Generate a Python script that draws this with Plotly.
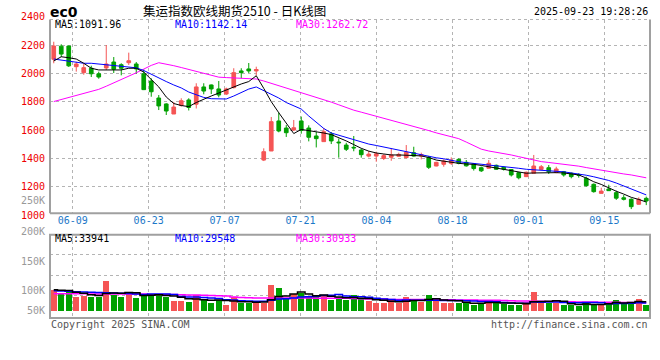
import plotly.graph_objects as go

# ---------------- data ----------------
dates = ["06-04", "06-05", "06-06", "06-09", "06-10", "06-11", "06-12", "06-13", "06-16", "06-17",
         "06-18", "06-19", "06-20", "06-23", "06-24", "06-25", "06-26", "06-27", "06-30", "07-01",
         "07-02", "07-03", "07-04", "07-07", "07-08", "07-09", "07-10", "07-11", "07-14", "07-15",
         "07-16", "07-17", "07-18", "07-21", "07-22", "07-23", "07-24", "07-25", "07-28", "07-29",
         "07-30", "07-31", "08-01", "08-04", "08-05", "08-06", "08-07", "08-08", "08-11", "08-12",
         "08-13", "08-14", "08-15", "08-18", "08-19", "08-20", "08-21", "08-22", "08-25", "08-26",
         "08-27", "08-28", "08-29", "09-01", "09-02", "09-03", "09-04", "09-05", "09-08", "09-09",
         "09-10", "09-11", "09-12", "09-15", "09-16", "09-17", "09-18", "09-19", "09-22", "09-23"]

opens = [2099, 2192, 2193, 2047, 2005, 2036, 1997, 2038, 2080, 2061,
         2075, 2066, 1997, 1946, 1826, 1784, 1713, 1773, 1812, 1782,
         1904, 1918, 1890, 1854, 1899, 2017, 2031, 2017, 1388, 1452,
         1664, 1614, 1600, 1664, 1614, 1558, 1518, 1572, 1515, 1494,
         1478, 1459, 1416, 1416, 1399, 1408, 1415, 1405, 1440, 1416,
         1406, 1346, 1358, 1365, 1393, 1372, 1361, 1334, 1330, 1351,
         1337, 1321, 1299, 1271, 1295, 1322, 1334, 1300, 1306, 1295,
         1285, 1259, 1217, 1153, 1184, 1158, 1122, 1111, 1076, 1118]
closes = [2193, 2136, 2053, 2066, 2040, 1997, 1974, 2066, 2029, 2036,
          2089, 2031, 1885, 1870, 1770, 1734, 1762, 1807, 1759, 1904,
          1875, 1890, 1847, 1890, 2005, 2005, 2017, 2027, 1447, 1659,
          1593, 1581, 1616, 1597, 1549, 1539, 1588, 1523, 1510, 1464,
          1474, 1426, 1430, 1432, 1419, 1424, 1428, 1443, 1416, 1427,
          1337, 1372, 1381, 1388, 1365, 1347, 1328, 1312, 1365, 1323,
          1323, 1283, 1263, 1302, 1346, 1341, 1306, 1325, 1283, 1271,
          1281, 1207, 1165, 1169, 1172, 1119, 1111, 1059, 1111, 1099]
highs = [2223, 2205, 2195, 2082, 2066, 2054, 2012, 2200, 2115, 2071,
         2146, 2080, 2028, 1965, 1847, 1789, 1798, 1824, 1824, 1930,
         1930, 1921, 1946, 1899, 2036, 2036, 2073, 2047, 1471, 1692,
         1724, 1635, 1671, 1695, 1633, 1586, 1614, 1586, 1540, 1510,
         1558, 1469, 1452, 1447, 1430, 1471, 1440, 1494, 1482, 1440,
         1417, 1376, 1393, 1407, 1400, 1388, 1367, 1342, 1388, 1356,
         1342, 1325, 1304, 1307, 1424, 1353, 1353, 1341, 1311, 1300,
         1295, 1271, 1223, 1193, 1214, 1172, 1141, 1118, 1125, 1130]
lows = [2071, 2115, 2045, 2012, 1990, 1974, 1962, 2024, 2002, 1986,
        2059, 1997, 1882, 1835, 1741, 1706, 1713, 1765, 1738, 1752,
        1852, 1854, 1831, 1847, 1894, 1965, 2002, 1985, 1381, 1452,
        1584, 1551, 1593, 1574, 1520, 1477, 1518, 1501, 1405, 1452,
        1450, 1405, 1407, 1376, 1388, 1383, 1412, 1400, 1412, 1393,
        1325, 1344, 1341, 1353, 1358, 1342, 1314, 1304, 1328, 1318,
        1314, 1272, 1252, 1268, 1293, 1318, 1290, 1295, 1271, 1259,
        1264, 1201, 1158, 1152, 1170, 1107, 1103, 1042, 1074, 1070]

ma5 = [2087, 2117, 2110, 2101, 2071, 2036, 2024, 2024, 2024, 2024,
       2036, 2036, 2009, 1960, 1904, 1833, 1787, 1773, 1765, 1794,
       1819, 1840, 1861, 1882, 1906, 1925, 1942, 1983, 1894, 1800,
       1722, 1647, 1575, 1604, 1597, 1588, 1579, 1568, 1547, 1523,
       1497, 1471, 1451, 1438, 1431, 1424, 1424, 1424, 1420, 1417,
       1406, 1388, 1379, 1372, 1365, 1360, 1358, 1350, 1341, 1332,
       1325, 1318, 1306, 1295, 1297, 1299, 1299, 1299, 1297, 1290,
       1283, 1261, 1235, 1216, 1191, 1168, 1148, 1125, 1110, 1091.96]
ma10 = [2101, 2094, 2082, 2077, 2071, 2071, 2066, 2059, 2059, 2052,
        2047, 2039, 2020, 1992, 1964, 1942, 1918, 1897, 1868, 1847,
        1830, 1821, 1818, 1819, 1840, 1865, 1889, 1904, 1878, 1847,
        1826, 1794, 1773, 1748, 1699, 1653, 1611, 1579, 1563, 1544,
        1528, 1514, 1501, 1491, 1480, 1470, 1458, 1447, 1434, 1424,
        1413, 1404, 1397, 1385, 1376, 1370, 1365, 1359, 1353, 1347,
        1342, 1335, 1330, 1323, 1320, 1316, 1313, 1309, 1305, 1297,
        1290, 1281, 1270, 1258, 1244, 1226, 1206, 1187, 1166, 1142.14]
ma30 = [1801, 1815, 1829, 1842, 1857, 1872, 1887, 1909, 1932, 1955,
        1979, 2004, 2030, 2056, 2075, 2067, 2054, 2041, 2028, 2014,
        2001, 1987, 1973, 1970, 1968, 1967, 1963, 1960, 1946, 1930,
        1914, 1898, 1882, 1866, 1850, 1834, 1816, 1797, 1778, 1758,
        1740, 1726, 1712, 1698, 1684, 1670, 1655, 1641, 1626, 1611,
        1596, 1580, 1566, 1553, 1539, 1515, 1491, 1465, 1452, 1444,
        1435, 1424, 1412, 1400, 1388, 1377, 1371, 1365, 1360, 1354,
        1345, 1335, 1325, 1315, 1305, 1298, 1290, 1283, 1275, 1262.72]

# volume in thousands of contracts
volume_k = [79, 68, 75, 53, 57, 53, 51, 113, 60, 53,
            66, 49, 63, 63, 63, 51, 38, 38, 33, 60,
            41, 30, 41, 22, 51, 28, 30, 28, 28, 98,
            85, 43, 63, 68, 56, 53, 58, 41, 51, 41,
            60, 43, 37, 30, 30, 41, 30, 51, 41, 34,
            60, 41, 30, 30, 30, 30, 22, 30, 41, 30,
            24, 22, 22, 32, 72, 28, 28, 28, 22, 22,
            19, 33, 25, 22, 33, 41, 25, 33, 44, 22]
vol_ma5_k = [80, 78, 77, 70, 66, 61, 58, 65, 67, 66,
             69, 68, 58, 59, 61, 58, 56, 51, 45, 44,
             42, 40, 41, 39, 37, 34, 34, 32, 33, 42,
             54, 56, 63, 71, 63, 57, 60, 55, 52, 49,
             50, 47, 46, 42, 40, 36, 34, 36, 39, 39,
             43, 45, 41, 39, 38, 32, 28, 28, 31, 31,
             29, 29, 28, 26, 34, 35, 36, 38, 36, 26,
             24, 25, 24, 24, 26, 31, 29, 31, 35, 33.941]
vol_ma10_k = [76, 75, 74, 72, 71, 70, 69, 68, 67, 66,
              65, 63, 62, 63, 63, 63, 62, 54, 52, 52,
              50, 48, 46, 42, 41, 38, 37, 36, 36, 40,
              44, 45, 48, 52, 53, 55, 58, 59, 62, 56,
              53, 53, 51, 47, 44, 43, 40, 41, 40, 40,
              40, 40, 39, 39, 39, 38, 37, 35, 35, 34,
              31, 29, 28, 28, 33, 32, 33, 33, 31, 30,
              30, 31, 31, 30, 26, 27, 27, 28, 30, 29.548]
vol_ma30_k = [64, 64, 64, 64, 64, 63, 63, 63, 63, 63,
              63, 63, 63, 62, 62, 62, 62, 61, 60, 60,
              59, 58, 57, 56, 52, 50, 49, 48, 48, 48,
              48, 48, 48, 48, 48, 47, 47, 47, 47, 47,
              46, 45, 44, 44, 44, 43, 43, 43, 43, 43,
              42, 42, 42, 42, 41, 41, 41, 40, 40, 40,
              39, 38, 37, 37, 36, 36, 35, 35, 34, 34,
              33, 33, 33, 32, 32, 32, 31, 31, 31, 30.933]

price_ticks = [2400, 2200, 2000, 1800, 1600, 1400, 1200, 1000]
vol_tick_labels = ["200K", "150K", "100K", "50K"]
title_text = "集运指数欧线期货2510 - 日K线图"
symbol_text = "ec0"
stamp_text = "2025-09-23 19:28:26"
ma_main_labels = ["MA5:1091.96", "MA10:1142.14", "MA30:1262.72"]
ma_vol_labels = ["MA5:33941", "MA10:29548", "MA30:30933"]
footer_left = "Copyright 2025 SINA.COM"
footer_right = "http://finance.sina.com.cn"

# ---------------- layout helpers ----------------
W, H = 660, 360
X0, X1 = 50, 650
MAIN_TOP, MAIN_BOT = 19.5, 213.3
VOL_TOP, VOL_BOT = 234.7, 318.0
PRICE_PER_PX = 1000 / 141.7        # 2200 sits at y=45 px
REF_PRICE, REF_PX = 2200, 45.0
VOL_PER_PX = 3.8                   # thousand contracts per pixel
VOL_BASE_PX = 310.7

def px_x(p):
    return p / W

def px_y(p):
    return 1 - p / H

def price_px(price):
    return REF_PX + (REF_PRICE - price) / PRICE_PER_PX

RED = "#F55555"
GREEN = "#00A000"
GRID = "#B4B4B4"
BORDER = "#A0A0A0"
MONO = "DejaVu Sans Mono"

n = len(dates)
idx = list(range(n))

main_range = [REF_PRICE - (MAIN_BOT - REF_PX) * PRICE_PER_PX,
              REF_PRICE + (REF_PX - MAIN_TOP) * PRICE_PER_PX]
vol_range = [-(VOL_BOT - VOL_BASE_PX) * VOL_PER_PX, (VOL_BASE_PX - VOL_TOP) * VOL_PER_PX]
vol_grid = [(VOL_BASE_PX - p) * VOL_PER_PX for p in (254.7, 275.3, 295.7)]

# evenly spaced vertical grid lines, labelled with the date of the nearest candle
GRID_START, GRID_STEP = 2.53, 10.126
tick_pos = [GRID_START + k * GRID_STEP for k in range(8)]
tick_txt = [dates[int(round(t))] for t in tick_pos]

fig = go.Figure()

fig.add_trace(go.Candlestick(
    x=idx, open=opens, high=highs, low=lows, close=closes,
    increasing=dict(line=dict(color=RED, width=1), fillcolor=RED),
    decreasing=dict(line=dict(color=GREEN, width=1), fillcolor=GREEN),
    whiskerwidth=0, xaxis="x", yaxis="y", hoverinfo="skip"))

for vals, col in ((ma30, "#FF00FF"), (ma10, "#0000FF"), (ma5, "#000000")):
    fig.add_trace(go.Scatter(x=idx, y=vals, mode="lines", line=dict(color=col, width=1),
                             xaxis="x", yaxis="y", hoverinfo="skip"))

bar_colors = [RED if c >= o else GREEN for o, c in zip(opens, closes)]
fig.add_trace(go.Bar(x=idx, y=volume_k, marker=dict(color=bar_colors, line=dict(width=0)),
                     width=0.8, xaxis="x2", yaxis="y2", hoverinfo="skip"))
for vals, col in ((vol_ma30_k, "#FF00FF"), (vol_ma10_k, "#0000FF"), (vol_ma5_k, "#000000")):
    fig.add_trace(go.Scatter(x=idx, y=vals, mode="lines", line=dict(color=col, width=1.5, shape="hvh"),
                             xaxis="x2", yaxis="y2", hoverinfo="skip"))

xdom = [px_x(X0), px_x(X1)]
fig.update_layout(
    width=W, height=H, margin=dict(l=0, r=0, t=0, b=0),
    paper_bgcolor="white", plot_bgcolor="white", showlegend=False,
    bargap=0, hovermode=False,
    xaxis=dict(domain=xdom, range=[-0.5, n - 0.5], tickmode="array", tickvals=tick_pos,
               ticktext=tick_txt, showgrid=True, gridcolor=GRID, griddash="dot", gridwidth=1,
               zeroline=False, showline=False, ticks="", rangeslider=dict(visible=False),
               tickfont=dict(family=MONO, size=10, color="#1C78C8"), anchor="y", fixedrange=True),
    yaxis=dict(domain=[px_y(MAIN_BOT), px_y(MAIN_TOP)], range=main_range, tickmode="array",
               tickvals=price_ticks[1:-1], showticklabels=False, showgrid=True, gridcolor=GRID,
               griddash="dot", gridwidth=1, zeroline=False, showline=False, anchor="x"),
    xaxis2=dict(domain=xdom, range=[-0.5, n - 0.5], tickmode="array", tickvals=tick_pos,
                showticklabels=False, showgrid=True, gridcolor=GRID, griddash="dot", gridwidth=1,
                zeroline=False, showline=False, ticks="", anchor="y2"),
    yaxis2=dict(domain=[px_y(VOL_BOT), px_y(VOL_TOP)], range=vol_range, tickmode="array",
                tickvals=vol_grid, showticklabels=False, showgrid=True, gridcolor=GRID,
                griddash="dot", gridwidth=1, zeroline=False, showline=False, anchor="x2"),
)

shapes = []
shapes.append(dict(type="line", xref="paper", yref="paper", x0=px_x(X0), x1=px_x(X1),
                   y0=px_y(MAIN_TOP), y1=px_y(MAIN_TOP), line=dict(color=GRID, width=1, dash="dot")))
for (xa, ya, xb, yb) in ((X0, MAIN_TOP, X0, MAIN_BOT), (X1, MAIN_TOP, X1, MAIN_BOT),
                         (X0, MAIN_BOT, X1, MAIN_BOT)):
    shapes.append(dict(type="line", xref="paper", yref="paper", x0=px_x(xa), x1=px_x(xb),
                       y0=px_y(ya), y1=px_y(yb), line=dict(color=BORDER, width=2)))
shapes.append(dict(type="rect", xref="paper", yref="paper", x0=px_x(X0), x1=px_x(X1),
                   y0=px_y(VOL_BOT), y1=px_y(VOL_TOP), line=dict(color=BORDER, width=2)))
fig.update_layout(shapes=shapes)

ann = []
def text(x, y, s, color="#000000", size=10, family=MONO, xanchor="left"):
    ann.append(dict(x=x, y=y, text=s, showarrow=False, xref="paper", yref="paper", xanchor=xanchor,
                    yanchor="middle", font=dict(family=family, size=size, color=color)))

# header
text(px_x(48), px_y(11.5), "<b>" + symbol_text + "</b>", size=14, family="DejaVu Sans")
text(px_x(141), px_y(10), title_text, size=12.5, family="Noto Sans CJK SC")
text(px_x(650), px_y(12), stamp_text, xanchor="right")
# MA legends
for s, col, xp in zip(ma_main_labels, ("#000000", "#0000FF", "#FF00FF"), (53, 173, 294)):
    text(px_x(xp), px_y(25), s, color=col)
for s, col, xp in zip(ma_vol_labels, ("#000000", "#0000FF", "#FF00FF"), (53, 173, 294)):
    text(px_x(xp), px_y(238.5), s, color=col)
# price labels, placed with the price scale
for p in price_ticks:
    text(px_x(47), px_y(price_px(p)), str(p), color="#EE0000", xanchor="right")
# volume labels
text(px_x(47), px_y(200.3), "250K", color="#999999", xanchor="right")
for s, yp in zip(vol_tick_labels, (231, 261, 290.5, 310.5)):
    text(px_x(47), px_y(yp), s, color="#999999", xanchor="right")
# footer
text(px_x(49), px_y(324), footer_left, color="#555555")
text(px_x(650), px_y(324), footer_right, color="#555555", xanchor="right")
fig.update_layout(annotations=ann)

fig.write_html("out.html", config={"displayModeBar": False, "staticPlot": True},
               post_script="document.body.style.margin='0';document.body.style.padding='0';")
